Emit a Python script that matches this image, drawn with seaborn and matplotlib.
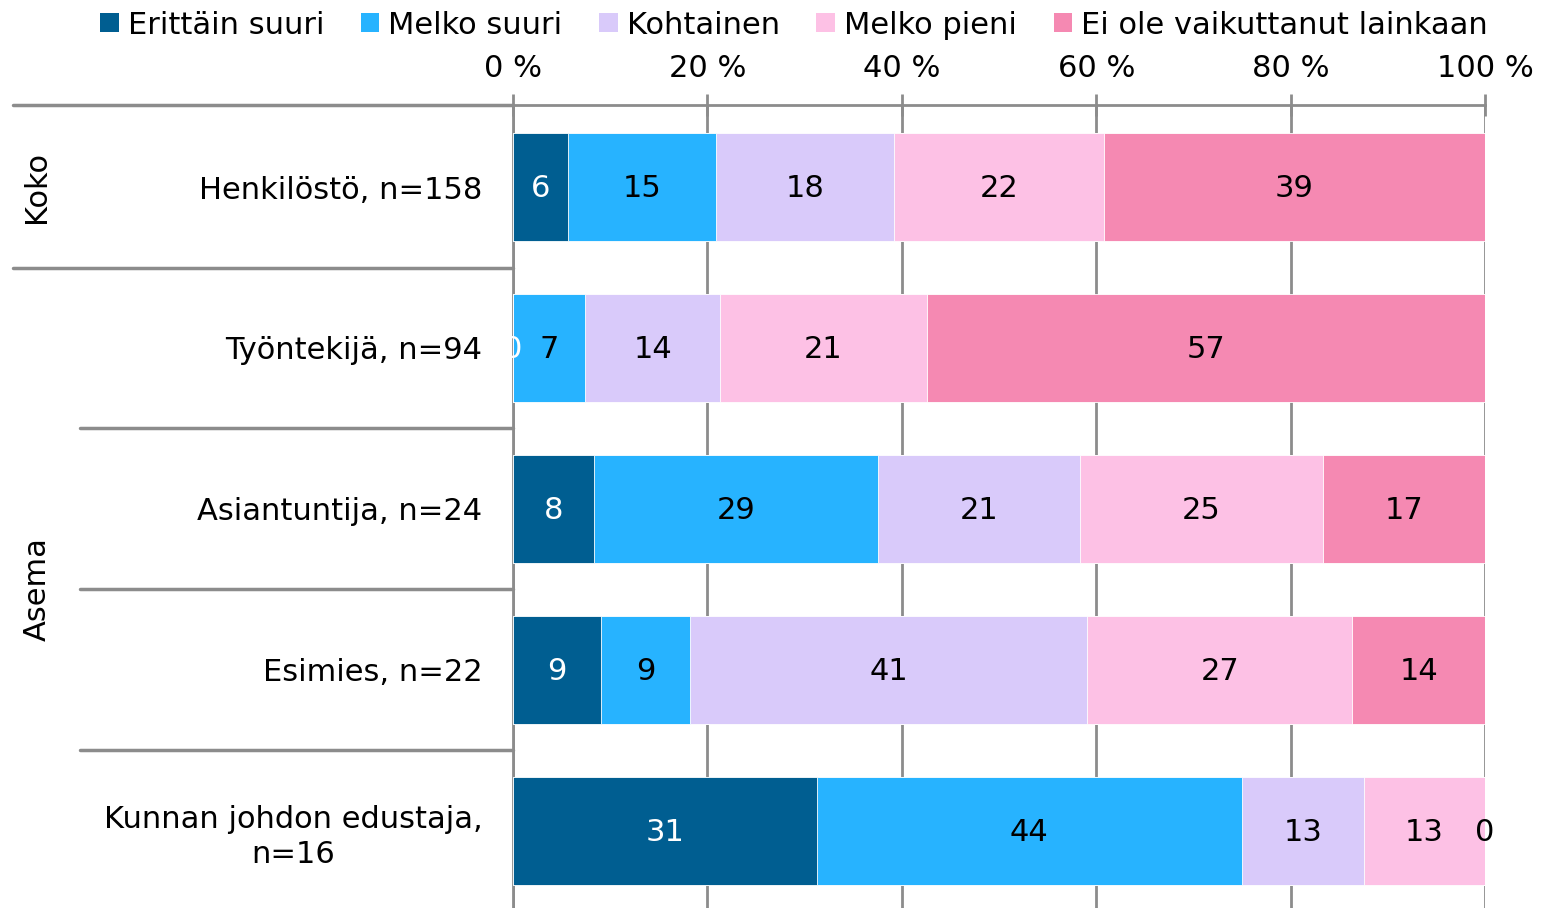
import numpy as np
import pandas as pd
import seaborn as sns
import matplotlib
matplotlib.use("Agg")
import matplotlib.pyplot as plt
from matplotlib.patches import Patch

# data (percent of respondents)
categories = ["Henkilöstö, n=158", "Työntekijä, n=94", "Asiantuntija, n=24",
              "Esimies, n=22", "Kunnan johdon edustaja,\nn=16"]
series = ["Erittäin suuri", "Melko suuri", "Kohtainen", "Melko pieni",
          "Ei ole vaikuttanut lainkaan"]
erittain_suuri = [5.70, 0.00, 8.33, 9.09, 31.25]
melko_suuri = [15.19, 7.45, 29.17, 9.09, 43.75]
kohtainen = [18.35, 13.83, 20.83, 40.91, 12.50]
melko_pieni = [21.52, 21.28, 25.00, 27.27, 12.50]
ei_ole = [39.24, 57.44, 16.67, 13.64, 0.00]
groups = ["Koko", "Asema"]
xticks = [0, 20, 40, 60, 80, 100]

colors = ["#005E91", "#27B3FF", "#D9CAFA", "#FDC1E5", "#F589B2"]
label_colors = ["white", "black", "black", "black", "black"]
grid_col = "#8C8C8C"
FS = 22

sns.set_theme(style="white")
plt.rcParams["font.family"] = ["DejaVu Sans"]
plt.rcParams["text.color"] = "black"
plt.rcParams["xtick.labelcolor"] = "black"
plt.rcParams["ytick.labelcolor"] = "black"

df = pd.DataFrame({"cat": categories,
                   series[0]: erittain_suuri, series[1]: melko_suuri,
                   series[2]: kohtainen, series[3]: melko_pieni,
                   series[4]: ei_ole})
cum = df[series].cumsum(axis=1)

fig = plt.figure(figsize=(15.41, 9.08), dpi=100)
ax = fig.add_axes([513 / 1541, 0, 972 / 1541, 1 - 105 / 908])

# stacked bars: draw cumulative totals from largest to smallest
for i in range(len(series) - 1, -1, -1):
    sns.barplot(x=cum[series[i]], y=df["cat"], color=colors[i], orient="h",
                width=0.67, saturation=1, ax=ax, edgecolor="white",
                linewidth=0.6, zorder=3)

# value labels
for i, s in enumerate(series):
    for j in range(len(categories)):
        v = df[s].iloc[j]
        xc = cum[s].iloc[j] - v / 2
        ax.text(xc, j + 0.01, str(int(np.floor(v + 0.5))), ha="center", va="center",
                fontsize=FS, color=label_colors[i], zorder=5)

ax.set_xlim(0, 100)
ax.set_ylim(4.48, -0.51)
ax.set_xlabel("")
ax.set_ylabel("")
ax.xaxis.tick_top()
ax.set_xticks(xticks)
ax.set_xticklabels([f"{t} %" for t in xticks], fontsize=FS)
ax.tick_params(axis="x", which="major", direction="inout", length=16,
               width=2, color=grid_col, pad=8)
ax.tick_params(axis="y", length=0, pad=22, labelsize=FS)
for lbl in ax.get_yticklabels():
    lbl.set_multialignment("center")
    lbl.set_linespacing(1.25)
ax.grid(axis="x", color=grid_col, linewidth=2, zorder=0)
ax.set_axisbelow(True)
for side in ["right", "bottom"]:
    ax.spines[side].set_visible(False)
for side in ["top", "left"]:
    ax.spines[side].set_color(grid_col)
    ax.spines[side].set_linewidth(2)

# left-side table lines
tr = ax.get_yaxis_transform()
x_outer = (13 - 513) / 972
x_inner = (80 - 513) / 972
ax.plot([x_outer, 0], [-0.51, -0.51], transform=tr, color=grid_col, lw=2.5, clip_on=False)
ax.plot([x_outer, 0], [0.5, 0.5], transform=tr, color=grid_col, lw=2.5, clip_on=False)
for yb in [1.5, 2.5, 3.5]:
    ax.plot([x_inner, 0], [yb, yb], transform=tr, color=grid_col, lw=2.5, clip_on=False)

# group labels
gx = (37 - 513) / 972
ax.text(gx, 0, groups[0], transform=tr, rotation=90, ha="center", va="center", fontsize=FS)
ax.text(gx, 2.5, groups[1], transform=tr, rotation=90, ha="center", va="center", fontsize=FS)

handles = [Patch(facecolor=c, edgecolor="none") for c in colors]
fig.legend(handles, series, loc="center", bbox_to_anchor=(794 / 1541, 1 - 25 / 908),
           ncol=5, frameon=False, fontsize=FS, handlelength=0.6, handleheight=0.6,
           handletextpad=0.3, columnspacing=1.2, borderaxespad=0, borderpad=0)

fig.savefig("out.png", dpi=100)
